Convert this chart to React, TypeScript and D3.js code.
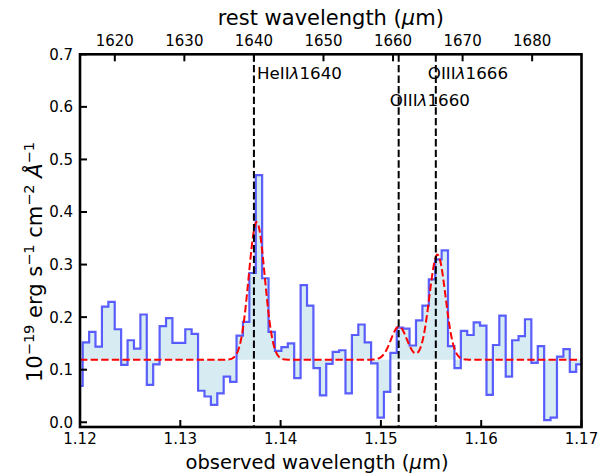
import React from 'react';
import * as d3 from 'd3';

// ---- data ----
// flux per spectral bin (10^-19 erg s^-1 cm^-2 A^-1), first bin partly left of the axis
const flux = [
  0.069,
  0.152, 0.172, 0.144, 0.220, 0.229, 0.177, 0.109, 0.156, 0.140, 0.205,
  0.071, 0.110, 0.183, 0.198, 0.151, 0.151, 0.177, 0.168, 0.060, 0.049,
  0.033, 0.055, 0.087, 0.077, 0.165, 0.191, 0.284, 0.470, 0.274, 0.172,
  0.136, 0.143, 0.150, 0.084, 0.261, 0.222, 0.103, 0.051, 0.111, 0.134,
  0.137, 0.055, 0.166, 0.186, 0.152, 0.112, 0.009, 0.058, 0.132, 0.180,
  0.178, 0.146, 0.194, 0.222, 0.272, 0.310, 0.327, 0.145, 0.103, 0.174,
  0.166, 0.190, 0.184, 0.052, 0.147, 0.203, 0.087, 0.156, 0.164, 0.196,
  0.113, 0.145, 0.004, 0.009, 0.125, 0.139, 0.096, 0.110,
];
const binStart = 1.11963; // um, left edge of first bin
const binWidth = 0.000639; // um

// model: continuum + gaussian lines
const continuum = 0.119;
const modelCenters = [1.13762, 1.1518, 1.15564];
const modelAmps = [0.262, 0.063, 0.2];
const modelSigmas = [0.000798, 0.000798, 0.000798];

// emission line markers
const lineLabels = ['HeII', 'OIII', 'OIII'];
const lineLabelWave = ['1640', '1660', '1666'];
const lineRest = [1640, 1660.81, 1666.15];
const obsPerRest = 6.935e-4; // um per rest-frame unit (1+z)

const xTicks = [1.12, 1.13, 1.14, 1.15, 1.16, 1.17];
const yTicks = [0.0, 0.1, 0.2, 0.3, 0.4, 0.5, 0.6, 0.7];
const topTicks = [1620, 1630, 1640, 1650, 1660, 1670, 1680];

// ---- layout ----
const W = 613;
const H = 474;
const L = 80;
const R = 581.5;
const T = 54.3;
const B = 427;
const FONT = "'DejaVu Sans', sans-serif";
const labelOffsets = [
  { dx: 3, y: 79 },
  { dx: -9, y: 106 },
  { dx: -8, y: 79 },
];

export default function App() {
  const x = d3.scaleLinear().domain([1.12, 1.17]).range([L, R]);
  const y = d3.scaleLinear().domain([-0.009, 0.7]).range([B, T]);

  const pts = flux.map((v, i) => ({ w: binStart + i * binWidth, v }));
  pts.push({ w: binStart + flux.length * binWidth, v: flux[flux.length - 1] });

  const stepLine = d3
    .line<{ w: number; v: number }>()
    .x((d) => x(d.w))
    .y((d) => y(d.v))
    .curve(d3.curveStepAfter);
  const stepArea = d3
    .area<{ w: number; v: number }>()
    .x((d) => x(d.w))
    .y0(y(continuum))
    .y1((d) => y(d.v))
    .curve(d3.curveStepAfter);

  const grid = d3.range(1.12, 1.17001, 0.0001);
  const modelPts = grid.map((w) => {
    let v = continuum;
    modelCenters.forEach((c, k) => {
      v += modelAmps[k] * Math.exp(-0.5 * ((w - c) / modelSigmas[k]) ** 2);
    });
    return { w, v };
  });
  const modelLine = d3
    .line<{ w: number; v: number }>()
    .x((d) => x(d.w))
    .y((d) => y(d.v));

  const tickLen = 7;

  return (
    <svg
      width={W}
      height={H}
      style={{ position: 'absolute', left: 0, top: 0, background: '#fff' }}
      fontFamily={FONT}
    >
      <defs>
        <clipPath id="plotclip">
          <rect x={L} y={T} width={R - L} height={B - T} />
        </clipPath>
      </defs>
      <rect x={0} y={0} width={W} height={H} fill="#fff" />
      <g clipPath="url(#plotclip)">
        <path d={stepArea(pts) || ''} fill="#add8e6" fillOpacity={0.5} stroke="none" />
        <path
          d={stepLine(pts) || ''}
          fill="none"
          stroke="#0000ff"
          strokeOpacity={0.62}
          strokeWidth={2.2}
        />
        <path
          d={modelLine(modelPts) || ''}
          fill="none"
          stroke="#ff0000"
          strokeWidth={2}
          strokeDasharray="7.4,3.2"
        />
        {lineRest.map((r, i) => (
          <line
            key={i}
            x1={x(r * obsPerRest)}
            x2={x(r * obsPerRest)}
            y1={T}
            y2={B}
            stroke="#000"
            strokeWidth={2}
            strokeDasharray="7.4,3.2"
          />
        ))}
      </g>

      {/* line labels */}
      {lineRest.map((r, i) => (
        <text
          key={'lab' + i}
          x={x(r * obsPerRest) + labelOffsets[i].dx}
          y={labelOffsets[i].y}
          fontSize={16.7}
          fill="#000"
        >
          {lineLabels[i]}
          <tspan fontStyle="italic">λ</tspan>
          {lineLabelWave[i]}
        </text>
      ))}

      {/* spines */}
      <rect x={L} y={T} width={R - L} height={B - T} fill="none" stroke="#000" strokeWidth={2.6} />

      {/* bottom ticks */}
      {xTicks.map((t) => (
        <g key={'xt' + t}>
          <line x1={x(t)} x2={x(t)} y1={B} y2={B - tickLen} stroke="#000" strokeWidth={2} />
          <text x={x(t)} y={444} textAnchor="middle" fontSize={15}>
            {t.toFixed(2)}
          </text>
        </g>
      ))}
      {/* left ticks */}
      {yTicks.map((t) => (
        <g key={'yt' + t}>
          <line x1={L} x2={L + tickLen} y1={y(t)} y2={y(t)} stroke="#000" strokeWidth={2} />
          <text x={73} y={y(t)} dy="0.36em" textAnchor="end" fontSize={15}>
            {t.toFixed(1)}
          </text>
        </g>
      ))}
      {/* top ticks */}
      {topTicks.map((t) => (
        <g key={'tt' + t}>
          <line
            x1={x(t * obsPerRest)}
            x2={x(t * obsPerRest)}
            y1={T}
            y2={T + tickLen}
            stroke="#000"
            strokeWidth={2}
          />
          <text x={x(t * obsPerRest)} y={46} textAnchor="middle" fontSize={15}>
            {t}
          </text>
        </g>
      ))}

      {/* titles */}
      <text x={(L + R) / 2} y={25} textAnchor="middle" fontSize={21}>
        rest wavelength (<tspan fontStyle="italic">μ</tspan>m)
      </text>
      <text x={317} y={469} textAnchor="middle" fontSize={19.5}>
        observed wavelength (<tspan fontStyle="italic">μ</tspan>m)
      </text>
      <text transform={`translate(42, 262) rotate(-90)`} textAnchor="middle" fontSize={21}>
        10<tspan dy={-8} fontSize={14.5}>−19</tspan>
        <tspan dy={8}> erg s</tspan>
        <tspan dy={-8} fontSize={14.5}>−1</tspan>
        <tspan dy={8}> cm</tspan>
        <tspan dy={-8} fontSize={14.5}>−2</tspan>
        <tspan dy={8} fontStyle="italic"> Å</tspan>
        <tspan dy={-8} fontSize={14.5}>−1</tspan>
      </text>
    </svg>
  );
}
